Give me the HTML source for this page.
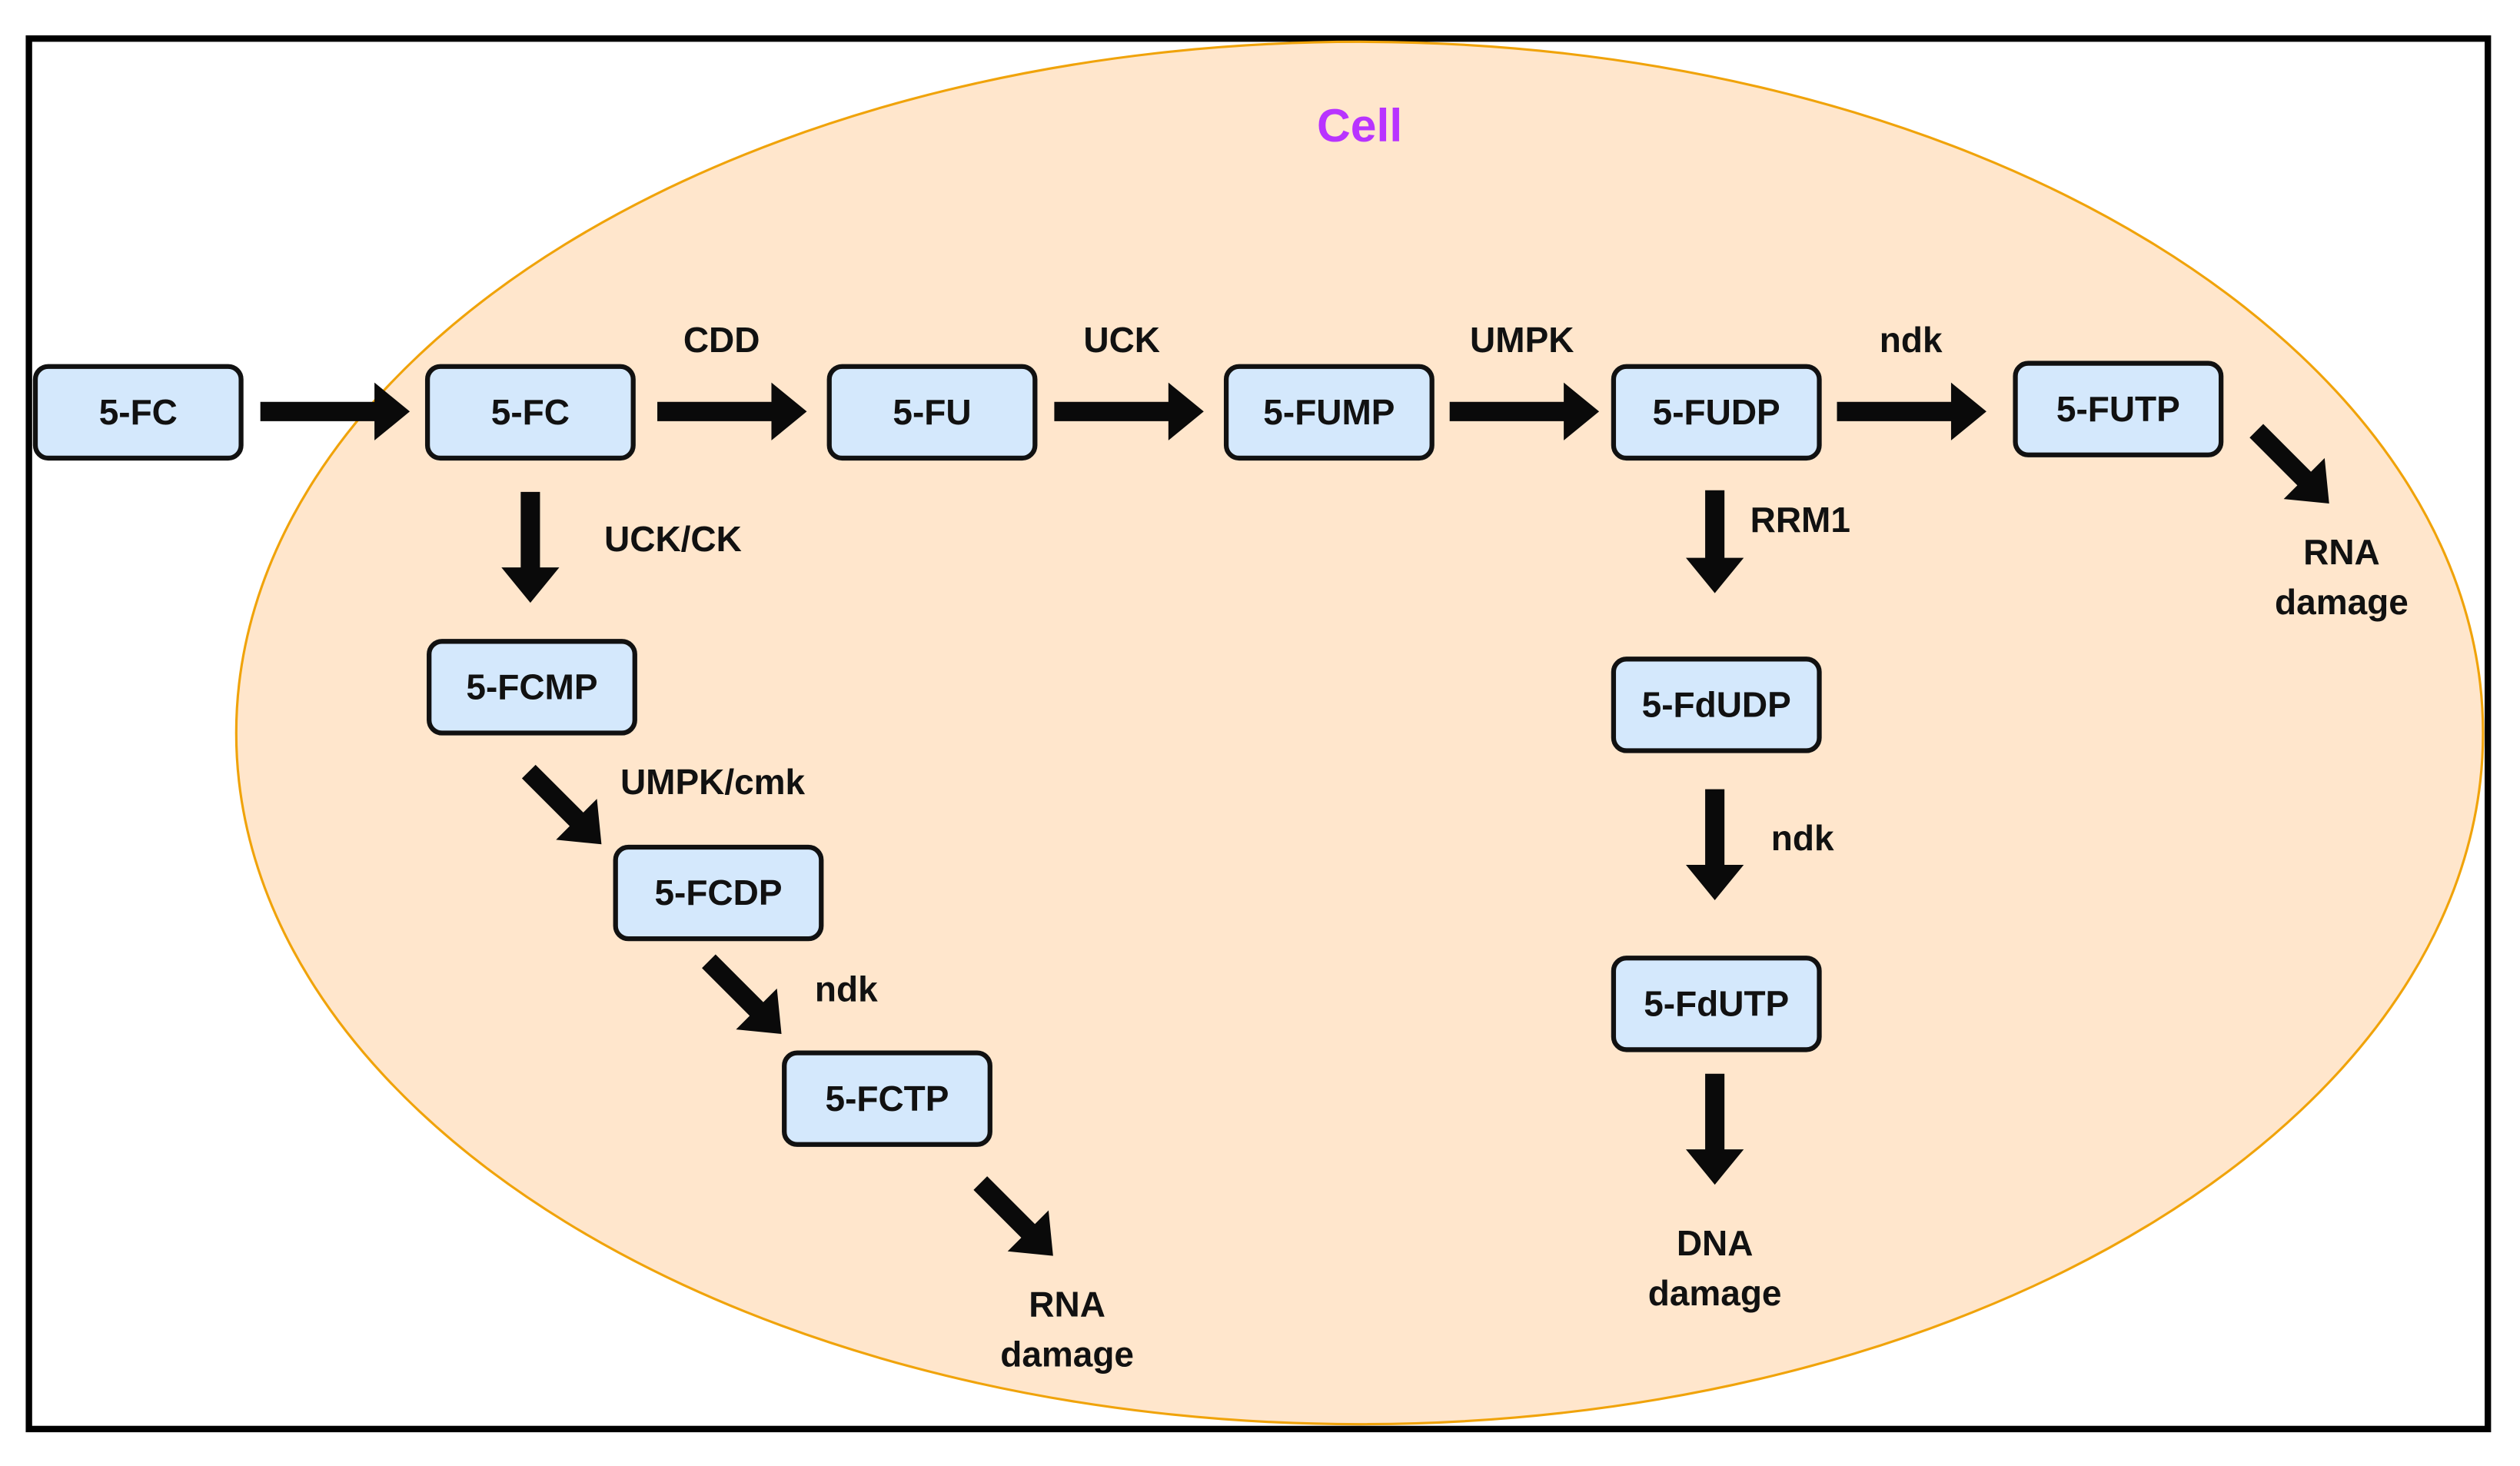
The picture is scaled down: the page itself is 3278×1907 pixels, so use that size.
<!DOCTYPE html>
<html><head><meta charset="utf-8"><style>
html,body{margin:0;padding:0;background:#fff}
svg{display:block}
text{font-family:"Liberation Sans",sans-serif;font-weight:bold;fill:#111}
</style></head><body>
<svg width="3278" height="1907" viewBox="0 0 1568 912" preserveAspectRatio="none" xmlns="http://www.w3.org/2000/svg">
<defs>
<path id="a93" d="M0,-6 L71,-6 L71,-18 L93,0 L71,18 L71,6 L0,6 z" fill="#0a0a0a"/>
<path id="a69" d="M0,-6 L47,-6 L47,-18 L69,0 L47,18 L47,6 L0,6 z" fill="#0a0a0a"/>
<path id="a64" d="M0,-6 L42,-6 L42,-18 L64,0 L42,18 L42,6 L0,6 z" fill="#0a0a0a"/>
</defs>
<rect width="1568" height="912" fill="#fff"/>
<rect x="18" y="24" width="1530" height="865" fill="none" stroke="#000" stroke-width="4"/>
<ellipse cx="846" cy="456" rx="699" ry="430" fill="#FFE6CC" stroke="#F0A30A" stroke-width="1.5"/>
<text x="846" y="88" font-size="29" text-anchor="middle" style="fill:#B833FF">Cell</text>
<g fill="#D4E8FC" stroke="#111" stroke-width="3">
<rect x="22" y="228" width="128" height="57" rx="8"/>
<rect x="266" y="228" width="128" height="57" rx="8"/>
<rect x="516" y="228" width="128" height="57" rx="8"/>
<rect x="763" y="228" width="128" height="57" rx="8"/>
<rect x="1004" y="228" width="128" height="57" rx="8"/>
<rect x="1254" y="226" width="128" height="57" rx="8"/>
<rect x="267" y="399" width="128" height="57" rx="8"/>
<rect x="383" y="527" width="128" height="57" rx="8"/>
<rect x="488" y="655" width="128" height="57" rx="8"/>
<rect x="1004" y="410" width="128" height="57" rx="8"/>
<rect x="1004" y="596" width="128" height="57" rx="8"/>
</g>
<g font-size="22" text-anchor="middle">
<text x="86" y="264">5-FC</text>
<text x="330" y="264">5-FC</text>
<text x="580" y="264">5-FU</text>
<text x="827" y="264">5-FUMP</text>
<text x="1068" y="264">5-FUDP</text>
<text x="1318" y="262">5-FUTP</text>
<text x="331" y="435">5-FCMP</text>
<text x="447" y="563">5-FCDP</text>
<text x="552" y="691">5-FCTP</text>
<text x="1068" y="446">5-FdUDP</text>
<text x="1068" y="632">5-FdUTP</text>
</g>
<use href="#a93" transform="translate(162,256)"/>
<use href="#a93" transform="translate(409,256)"/>
<use href="#a93" transform="translate(656,256)"/>
<use href="#a93" transform="translate(902,256)"/>
<use href="#a93" transform="translate(1143,256)"/>
<use href="#a69" transform="translate(330,306) rotate(90)"/>
<use href="#a64" transform="translate(1067,305) rotate(90)"/>
<use href="#a69" transform="translate(1067,491) rotate(90)"/>
<use href="#a69" transform="translate(1067,668) rotate(90)"/>
<use href="#a64" transform="translate(329,480) rotate(45)"/>
<use href="#a64" transform="translate(441,598) rotate(45)"/>
<use href="#a64" transform="translate(610,736) rotate(45)"/>
<use href="#a64" transform="translate(1404,268) rotate(45)"/>
<g font-size="22">
<text x="449" y="219" text-anchor="middle">CDD</text>
<text x="698" y="219" text-anchor="middle">UCK</text>
<text x="947" y="219" text-anchor="middle">UMPK</text>
<text x="1189" y="219" text-anchor="middle">ndk</text>
<text x="376" y="343">UCK/CK</text>
<text x="1089" y="331">RRM1</text>
<text x="1102" y="529">ndk</text>
<text x="386" y="494">UMPK/cmk</text>
<text x="507" y="623">ndk</text>
<text x="664" y="819" text-anchor="middle">RNA</text>
<text x="664" y="850" text-anchor="middle">damage</text>
<text x="1067" y="781" text-anchor="middle">DNA</text>
<text x="1067" y="812" text-anchor="middle">damage</text>
<text x="1457" y="351" text-anchor="middle">RNA</text>
<text x="1457" y="382" text-anchor="middle">damage</text>
</g>
</svg>
</body></html>
